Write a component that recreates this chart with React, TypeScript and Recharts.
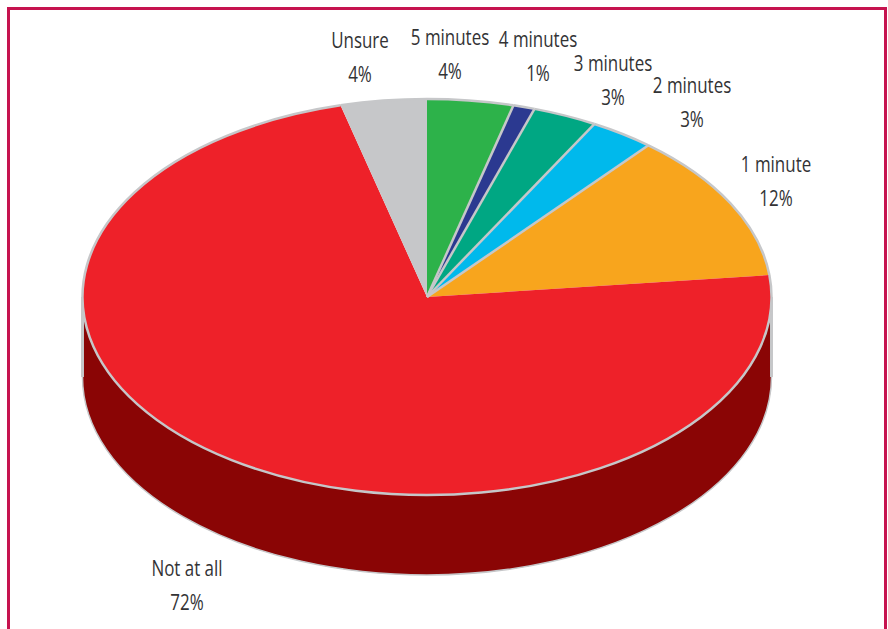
import { PieChart, Pie } from 'recharts';

const CATEGORIES = ['5 minutes', '4 minutes', '3 minutes', '2 minutes', '1 minute', 'Not at all', 'Unsure'];
const PERCENTS = [4, 1, 3, 3, 12, 72, 4];
const TOP_COLORS = ['#2DB24A', '#2B3990', '#00A783', '#00B9EC', '#F8A51D', '#EE2129', '#C6C7C9'];
const WALL_COLORS = ['#1B6B2D', '#1A2257', '#00654F', '#00708F', '#955F10', '#8A0505', '#77787A'];
// which slices have a grey divider on their clockwise edge
const DIVIDERS = [true, true, true, true, false, false, false];

const data = CATEGORIES.map((name, i) => ({
  name,
  value: PERCENTS[i],
  top: TOP_COLORS[i],
  wall: WALL_COLORS[i],
  divider: DIVIDERS[i],
}));

const CX = 427;
const CY = 297;
const RX = 344.5;
const RY = 198;
const DEPTH = 80;
const EDGE = '#C6C7C9';
const TEXT = '#333335';
const FONT = '"Open Sans", sans-serif';
const TEXT_SQUEEZE = 0.77;

// centre x and first baseline of each label
const LABEL_SPOTS: Record<string, [number, number]> = {
  Unsure: [360, 48],
  '5 minutes': [450, 45],
  '4 minutes': [538, 47],
  '3 minutes': [613, 71],
  '2 minutes': [692, 93],
  '1 minute': [776, 172],
  'Not at all': [187, 576],
};

const rad = (a: number) => (a * Math.PI) / 180;
const pt = (a: number, dy = 0) => {
  const x = CX + RX * Math.cos(rad(a));
  const y = CY - RY * Math.sin(rad(a)) + dy;
  return `${x.toFixed(2)} ${y.toFixed(2)}`;
};
const arc = (from: number, to: number, sweep: number, dy = 0) =>
  `A ${RX} ${RY} 0 ${Math.abs(from - to) > 180 ? 1 : 0} ${sweep} ${pt(to, dy)}`;

function TopShape(props: any) {
  const { startAngle: s, endAngle: e, payload } = props;
  const top = payload?.top ?? props.top;
  return <path d={`M ${CX} ${CY} L ${pt(s)} ${arc(s, e, 1)} Z`} fill={top} stroke="none" />;
}

// side of the pie: only the front half of the rim shows
function WallShape(props: any) {
  const { startAngle: s, endAngle: e, payload } = props;
  const wall = payload?.wall ?? props.wall;
  const from = Math.min(s, 0);
  const to = Math.max(e, -180);
  if (from <= to) return <g />;
  const d = `M ${pt(from)} L ${pt(from, DEPTH)} ${arc(from, to, 1, DEPTH)} L ${pt(to)} ${arc(to, from, 0)} Z`;
  return (
    <g>
      <path d={d} fill={wall} stroke="none" />
      <path d={`M ${pt(from)} L ${pt(from, DEPTH)}`} stroke={EDGE} strokeWidth={3} fill="none" />
      <path d={`M ${pt(to)} L ${pt(to, DEPTH)}`} stroke={EDGE} strokeWidth={3} fill="none" />
      <path d={`M ${pt(from, DEPTH)} ${arc(from, to, 1, DEPTH)}`} stroke={EDGE} strokeWidth={1.5} fill="none" />
    </g>
  );
}

function EdgeShape(props: any) {
  const { startAngle: s, endAngle: e, payload } = props;
  const divider = payload?.divider ?? props.divider;
  return (
    <g fill="none" stroke={EDGE}>
      <path d={`M ${pt(s)} ${arc(s, e, 1)}`} strokeWidth={2.5} />
      {divider && <path d={`M ${CX} ${CY} L ${pt(e)}`} strokeWidth={2.5} />}
    </g>
  );
}

function renderLabel(props: any) {
  const { name, value } = props;
  const spot = LABEL_SPOTS[name];
  if (!spot) return null;
  const lineText = (t: string, y: number) => (
    <text
      transform={`translate(${spot[0]} ${y}) scale(${TEXT_SQUEEZE} 1)`}
      textAnchor="middle"
      fontFamily={FONT}
      fontSize={22}
      fill={TEXT}
    >
      {t}
    </text>
  );
  return (
    <g>
      {lineText(name, spot[1])}
      {lineText(`${value}%`, spot[1] + 33.5)}
    </g>
  );
}

export default function App() {
  const common = {
    data,
    dataKey: 'value',
    nameKey: 'name',
    cx: CX,
    cy: CY,
    innerRadius: 0,
    outerRadius: RX,
    startAngle: 90,
    endAngle: -270,
    paddingAngle: 0,
    stroke: 'none',
    isAnimationActive: false,
  };
  return (
    <div style={{ position: 'fixed', left: 0, top: 0, width: 888, height: 629, overflow: 'hidden', background: '#fff' }}>
      <div
        style={{
          position: 'absolute',
          left: 7,
          top: 7,
          width: 880,
          height: 660,
          boxSizing: 'border-box',
          border: '3px solid #C6134F',
        }}
      />
      <div style={{ position: 'absolute', left: 0, top: 0 }}>
        <PieChart width={888} height={629} margin={{ top: 0, right: 0, bottom: 0, left: 0 }}>
          <Pie {...common} shape={WallShape} />
          <Pie {...common} shape={TopShape} />
          <Pie {...common} shape={EdgeShape} label={renderLabel} labelLine={false} />
        </PieChart>
      </div>
    </div>
  );
}
